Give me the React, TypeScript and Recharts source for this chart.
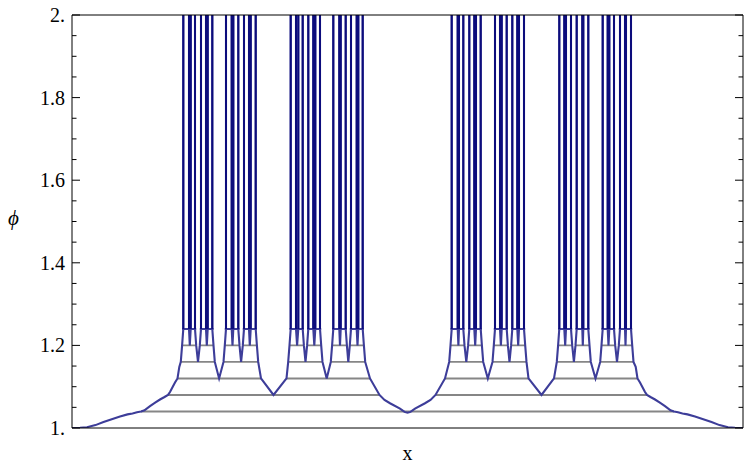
import React from "react";
import { ComposedChart, Line, XAxis, YAxis, ReferenceLine } from "recharts";

// plateau levels of the staircase (gray lines), then the level where the bars sit
const LEVELS = [1.04, 1.08, 1.12, 1.16, 1.2];
const BAR_LEVEL = 1.24;
const TOP = 2.06; // spikes run off the top of the frame

// plateau segments [from, to] for each level
const plateau104 = [[-266.5, 266.5]];
const plateau108 = [[-239.5, -28], [28, 239.5]];
const plateau112 = [[-230, -146.5], [-121, -37.5], [37.5, 121], [146.5, 230]];
const plateau116 = [
  [-226.7, -192.7], [-184, -149.3], [-119.3, -85], [-76.7, -42.3],
  [41.7, 75.7], [85, 119], [149.3, 183.3], [192.7, 226],
];
const plateau120 = [
  [-225.4, -211.3], [-207.7, -194.0], [-182.7, -168.0], [-164.7, -150.6],
  [-118.0, -103.6], [-100.4, -86.3], [-75.4, -60.6], [-57.7, -43.6],
  [43.0, 57.0], [60.6, 74.4], [86.3, 100.4], [103.6, 117.7],
  [150.6, 164.7], [168.0, 182.0], [194.0, 207.7], [211.3, 224.7],
];

// dips of the curve between neighbouring plateaus
const dips108 = [-134, 134];
const dips112 = [-188.4, -80.8, 80.3, 188];
const dips116 = [-209.5, -166.4, -102, -59.2, 58.8, 102, 166.4, 209.5];
const dips120 = [
  -217.7, -200.7, -175, -157.7, -110.4, -93.2, -67.5, -50,
  50.9, 67.7, 93.4, 110.7, 157.7, 175.3, 201, 218,
];

// rounded bottom of the middle dip
const centerDip = [
  [-23, 1.068], [-17.5, 1.06], [-7.5, 1.047], [-3, 1.039], [0, 1.037],
  [3, 1.039], [7.5, 1.047], [17.5, 1.06], [23, 1.068],
];

// outer flanks of the curve
const edgeLeft = [
  [-335.5, 1.0], [-327.5, 1.0005], [-320.5, 1.002], [-312, 1.007], [-304, 1.0145],
  [-295, 1.022], [-287.5, 1.028], [-280, 1.033], [-275, 1.035], [-270.5, 1.038],
  [-263, 1.043], [-257.5, 1.053], [-252, 1.062], [-247.5, 1.069], [-243, 1.075],
  [-237.5, 1.087], [-232.5, 1.11], [-228.2, 1.148],
];
const edgeRight = [
  [228.2, 1.148], [232.5, 1.11], [237.5, 1.087], [243, 1.075], [247.5, 1.069],
  [252, 1.062], [257.5, 1.053], [263, 1.043], [270.5, 1.038], [275, 1.035],
  [280, 1.033], [287.5, 1.028], [295, 1.022], [304, 1.0145], [312, 1.007],
  [320.5, 1.002], [327.5, 1.0005], [335.5, 1.0],
];

// spikes (left edge, right edge) that blow up past the frame
const spikes = [
  [-224.2, -218.5], [-216.8, -212.5], [-206.5, -201.5], [-199.8, -195.2],
  [-181.5, -175.8], [-174.2, -169.2], [-163.5, -158.5], [-156.8, -151.8],
  [-116.8, -111.5], [-109.2, -104.8], [-99.2, -94.2], [-92.2, -87.5],
  [-74.2, -68.2], [-66.8, -61.8], [-56.5, -50.8], [-49.2, -44.8],
  [44.2, 50.2], [51.5, 55.8], [61.8, 66.8], [68.5, 73.2],
  [87.5, 92.5], [94.2, 99.2], [104.8, 109.8], [111.5, 116.5],
  [151.8, 156.8], [158.5, 163.5], [169.2, 174.8], [175.8, 180.8],
  [195.2, 200.2], [201.8, 206.5], [212.5, 217.5], [218.5, 223.5],
];

const MAJOR_TICKS = [1, 1.2, 1.4, 1.6, 1.8, 2];
const MAJOR_LABELS = ["1.", "1.2", "1.4", "1.6", "1.8", "2."];
const MINOR_TICKS = [
  1.05, 1.1, 1.15, 1.25, 1.3, 1.35, 1.45, 1.5, 1.55, 1.65, 1.7, 1.75, 1.85, 1.9, 1.95,
];
const Y_TICKS = [...MAJOR_TICKS, ...MINOR_TICKS].sort((a, b) => a - b);

type Pt = { x: number; y: number | null };

const plateaus = [plateau104, plateau108, plateau112, plateau116, plateau120];
const dipsByLevel = [[], dips108, dips112, dips116, dips120];

// main blue curve: collect all vertices, sort along x
const groups: Pt[][] = [];
edgeLeft.forEach(([x, y]) => groups.push([{ x, y }]));
edgeRight.forEach(([x, y]) => groups.push([{ x, y }]));
centerDip.forEach(([x, y]) => groups.push([{ x, y }]));
plateaus.forEach((segs, i) =>
  segs.forEach(([a, b]) => {
    groups.push([{ x: a, y: LEVELS[i] }]);
    groups.push([{ x: b, y: LEVELS[i] }]);
  })
);
dipsByLevel.forEach((ds, i) => ds.forEach((x) => groups.push([{ x, y: LEVELS[i] }])));
spikes.forEach(([p, q]) =>
  groups.push([
    { x: p, y: BAR_LEVEL },
    { x: p, y: TOP },
    { x: q, y: TOP },
    { x: q, y: BAR_LEVEL },
  ])
);
groups.sort((g1, g2) => g1[0].x - g2[0].x);
const curveData: Pt[] = groups.flat();

const grayData: Pt[] = plateaus.flatMap((segs, i) =>
  segs.flatMap(([a, b]) => [
    { x: a, y: LEVELS[i] },
    { x: b, y: LEVELS[i] },
    { x: b, y: null },
  ])
);

const barData: Pt[] = plateau120.flatMap(([a, b]) => [
  { x: a, y: BAR_LEVEL },
  { x: b, y: BAR_LEVEL },
  { x: b, y: null },
]);

const spikeData: Pt[] = spikes.flatMap(([p, q]) => [
  { x: p, y: BAR_LEVEL },
  { x: p, y: TOP },
  { x: p, y: null },
  { x: q, y: BAR_LEVEL },
  { x: q, y: TOP },
  { x: q, y: null },
]);

const FONT = "'Liberation Serif', 'Times New Roman', serif";
const FONT_SIZE = 20;

const isMajor = (v: number) => MAJOR_TICKS.findIndex((m) => Math.abs(m - v) < 1e-6);

const LeftTick = (props: any) => {
  const { x, y, payload } = props;
  const i = isMajor(payload.value);
  const len = i >= 0 ? 8 : 4.5;
  return (
    <g>
      <line x1={x} y1={y} x2={x + len} y2={y} stroke="#000" strokeWidth={1} />
      {i >= 0 && (
        <text x={x - 7} y={y} dy="0.35em" textAnchor="end" fontFamily={FONT} fontSize={FONT_SIZE} fill="#000">
          {MAJOR_LABELS[i]}
        </text>
      )}
    </g>
  );
};

const RightTick = (props: any) => {
  const { x, y, payload } = props;
  const len = isMajor(payload.value) >= 0 ? 8 : 4.5;
  return <line x1={x} y1={y} x2={x - len} y2={y} stroke="#000" strokeWidth={1} />;
};

export default function App() {
  return (
    <div style={{ position: "absolute", left: 0, top: 0, background: "#fff" }}>
      <ComposedChart width={750} height={470} margin={{ top: 15, right: 0, bottom: 0, left: 0 }}>
        <XAxis
          type="number"
          dataKey="x"
          domain={[-335.5, 335.5]}
          tick={false}
          tickLine={false}
          axisLine={{ stroke: "#000" }}
          height={42}
          label={{ value: "x", position: "insideBottom", offset: 10, fontFamily: FONT, fontSize: FONT_SIZE, fill: "#000" }}
        />
        <YAxis
          yAxisId="l"
          type="number"
          domain={[1, 2]}
          allowDataOverflow
          ticks={Y_TICKS}
          interval={0}
          tick={<LeftTick />}
          tickLine={false}
          tickSize={0}
          tickMargin={0}
          width={72}
          axisLine={{ stroke: "#000" }}
          label={{ value: "ϕ", position: "insideLeft", offset: 8, dy: -4, fontFamily: FONT, fontSize: 21, fontStyle: "italic", fill: "#000" }}
        />
        <YAxis
          yAxisId="r"
          orientation="right"
          type="number"
          domain={[1, 2]}
          allowDataOverflow
          ticks={Y_TICKS}
          interval={0}
          tick={<RightTick />}
          tickLine={false}
          tickSize={0}
          tickMargin={0}
          width={7}
          axisLine={{ stroke: "#000" }}
        />
        <Line
          yAxisId="r"
          data={grayData}
          dataKey="y"
          type="linear"
          stroke="#868686"
          strokeWidth={1.9}
          dot={false}
          activeDot={false}
          isAnimationActive={false}
        />
        <Line
          yAxisId="l"
          data={curveData}
          dataKey="y"
          type="linear"
          stroke="#3d3d99"
          strokeWidth={2.1}
          dot={false}
          activeDot={false}
          isAnimationActive={false}
        />
        <Line
          yAxisId="l"
          data={barData}
          dataKey="y"
          type="linear"
          stroke="#3d3d99"
          strokeWidth={2}
          dot={false}
          activeDot={false}
          isAnimationActive={false}
        />
        <Line
          yAxisId="l"
          data={spikeData}
          dataKey="y"
          type="linear"
          stroke="#0c0c7c"
          strokeWidth={2}
          dot={false}
          activeDot={false}
          isAnimationActive={false}
        />
        <ReferenceLine yAxisId="l" y={2} stroke="#000" strokeWidth={1} />
      </ComposedChart>
    </div>
  );
}
